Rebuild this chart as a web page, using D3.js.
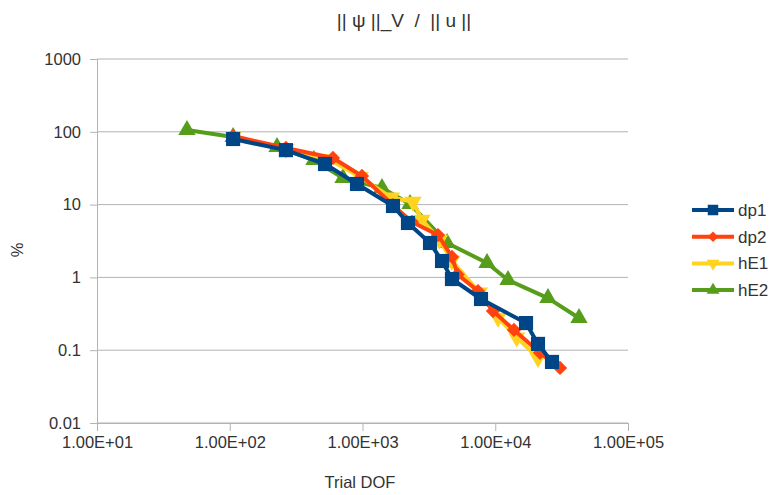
<!DOCTYPE html>
<html>
<head>
<meta charset="utf-8">
<script src="https://cdn.jsdelivr.net/npm/d3@7"></script>
<style>
  body { margin: 0; background: #fff; }
  text { font-family: "Liberation Sans Narrow", "Liberation Sans", Arial, sans-serif; fill: #333; }
</style>
</head>
<body>
<div id="chart"></div>
<script>
// series values: [trial DOF, percent]
const dp1 = [[106, 79.6], [265, 56], [522, 36.1], [909, 19.2], [1697, 9.57], [2201, 5.59],
  [3225, 2.97], [3972, 1.68], [4721, 0.95], [7811, 0.505], [17050, 0.236], [20990, 0.122], [26760, 0.069]];
const dp2 = [[106, 87.6], [265, 59.9], [599, 43.7], [991, 24.7], [1697, 9.8], [2360, 5.77],
  [3706, 3.82], [4721, 1.91], [5200, 1.1], [7413, 0.65], [9616, 0.345], [13840, 0.19], [21730, 0.092], [30750, 0.057]];
const hE1 = [[106, 87], [265, 58], [560, 42], [960, 24], [1650, 12.5], [2400, 10.9], [2800, 6.2],
  [3800, 3.3], [4700, 1.7], [7600, 0.62], [10500, 0.28], [14500, 0.15], [21000, 0.078]];
const hE2 = [[47.6, 106], [106, 84.8], [227, 61.9], [431, 41], [713, 23.2], [1402, 16.9], [2280, 10.2],
  [4335, 2.97], [8670, 1.58], [12480, 0.92], [24950, 0.52], [42750, 0.277]];

const seriesNames = ["dp1", "dp2", "hE1", "hE2"];
const seriesData = { dp1: dp1, dp2: dp2, hE1: hE1, hE2: hE2 };
const colors = { dp1: "#004586", dp2: "#ff420e", hE1: "#ffd320", hE2: "#579d1c" };
const markers = { dp1: "square", dp2: "diamond", hE1: "down", hE2: "up" };
const drawOrder = ["hE2", "hE1", "dp2", "dp1"];

const xTicks = [1e1, 1e2, 1e3, 1e4, 1e5];
const yTicks = [0.01, 0.1, 1, 10, 100, 1000];
const yTickLabels = ["0.01", "0.1", "1", "10", "100", "1000"];

const width = 775, height = 495;
const margin = { top: 59, right: 147, bottom: 72, left: 97 };
const plotW = width - margin.left - margin.right;
const plotH = height - margin.top - margin.bottom;

const svg = d3.select("#chart").append("svg")
  .attr("width", width)
  .attr("height", height);

const x = d3.scaleLog().domain([10, 1e5]).range([0, plotW]);
const y = d3.scaleLog().domain([0.01, 1000]).range([plotH, 0]);

const g = svg.append("g").attr("transform", `translate(${margin.left},${margin.top})`);

// horizontal grid
g.selectAll(".grid").data(yTicks).enter().append("line")
  .attr("x1", 0).attr("x2", plotW)
  .attr("y1", d => y(d)).attr("y2", d => y(d))
  .attr("stroke", "#b3b3b3").attr("stroke-width", 1);

// axes
const xAxis = g.append("g")
  .attr("transform", `translate(0,${plotH})`)
  .call(d3.axisBottom(x).tickValues(xTicks).tickSize(8).tickPadding(5)
    .tickFormat(d => d3.format(".2e")(d).replace("e+", "E+0").toUpperCase()));
const yAxis = g.append("g")
  .call(d3.axisLeft(y).tickValues(yTicks).tickSize(7).tickPadding(9)
    .tickFormat((d, i) => yTickLabels[i]));

[xAxis, yAxis].forEach(a => {
  a.select(".domain").attr("stroke", "#b3b3b3");
  a.selectAll(".tick line").attr("stroke", "#b3b3b3");
  a.selectAll("text").style("font-size", "16.5px").attr("fill", "#333")
    .style("font-family", "'Liberation Sans Narrow', 'Liberation Sans', sans-serif");
});

function symbolFor(kind, size) {
  if (kind === "square") return d3.symbol().type(d3.symbolSquare).size(size)();
  if (kind === "diamond") return d3.symbol().type(d3.symbolDiamond2 || d3.symbolDiamond).size(size)();
  return d3.symbol().type(d3.symbolTriangle).size(size)();
}
const markerSize = { square: 200, diamond: 130, down: 130, up: 130 };

const line = d3.line().x(d => x(d[0])).y(d => y(d[1]));

drawOrder.forEach(name => {
  const data = seriesData[name];
  const sg = g.append("g");
  sg.append("path")
    .datum(data)
    .attr("d", line)
    .attr("fill", "none")
    .attr("stroke", colors[name])
    .attr("stroke-width", 4)
    .attr("stroke-linejoin", "round");
  sg.selectAll("path.mark").data(data).enter().append("path")
    .attr("class", "mark")
    .attr("d", symbolFor(markers[name], markerSize[markers[name]]))
    .attr("transform", d => `translate(${x(d[0])},${y(d[1])})` + (markers[name] === "down" ? " rotate(180)" : ""))
    .attr("fill", colors[name]);
});

// title and axis titles
svg.append("text")
  .attr("x", 404).attr("y", 27)
  .attr("text-anchor", "middle")
  .style("font-size", "19px")
  .style("white-space", "pre")
  .attr("xml:space", "preserve")
  .text("|| ψ ||_V  /  || u ||");

svg.append("text")
  .attr("x", 360).attr("y", 488)
  .attr("text-anchor", "middle")
  .style("font-size", "16.5px")
  .text("Trial DOF");

svg.append("text")
  .attr("transform", "translate(23,250) rotate(-90)")
  .attr("text-anchor", "middle")
  .style("font-size", "16.5px")
  .text("%");

// legend
const legend = svg.append("g").attr("transform", "translate(692,210)");
seriesNames.forEach((name, i) => {
  const row = legend.append("g").attr("transform", `translate(0,${i * 26.7})`);
  row.append("line")
    .attr("x1", 0).attr("x2", 42)
    .attr("stroke", colors[name]).attr("stroke-width", 4);
  row.append("path")
    .attr("d", symbolFor(markers[name], markerSize[markers[name]] * 0.55))
    .attr("transform", `translate(21,0)` + (markers[name] === "down" ? " rotate(180)" : ""))
    .attr("fill", colors[name]);
  row.append("text")
    .attr("x", 46).attr("y", 6)
    .style("font-size", "17px")
    .text(name);
});
</script>
</body>
</html>
